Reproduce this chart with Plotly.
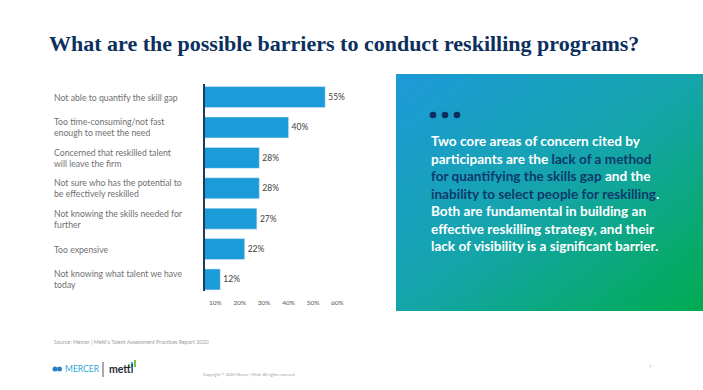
import plotly.graph_objects as go

W, H = 703, 390

title_text = "What are the possible barriers to conduct reskilling programs?"
categories = [
    "Not able to quantify the skill gap",
    "Too time-consuming/not fast<br>enough to meet the need",
    "Concerned that reskilled talent<br>will leave the firm",
    "Not sure who has the potential to<br>be effectively reskilled",
    "Not knowing the skills needed for<br>further",
    "Too expensive",
    "Not knowing what talent we have<br>today",
]
values = [55, 40, 28, 28, 27, 22, 12]
tick_values = [10, 20, 30, 40, 50, 60]
tick_labels = ["10%", "20%", "30%", "40%", "50%", "60%"]

NAVY = "#0d3a6b"
box_lines = [
    "Two core areas of concern cited by",
    f"participants are the <span style='color:{NAVY}'>lack of a method</span>",
    f"<span style='color:{NAVY}'>for quantifying the skills gap</span> and the",
    f"<span style='color:{NAVY}'>inability to select people for reskilling</span>.",
    "Both are fundamental in building an",
    "effective reskilling strategy, and their",
    "lack of visibility is a significant barrier.",
]
source_text = "Source: Mercer | Mettl's Talent Assessment Practices Report 2020"
copyright_text = "Copyright © 2020 Mercer | Mettl. All rights reserved."

def px(x):
    return x / W

def py(y):
    return 1 - y / H

ids = list(range(len(categories)))

fig = go.Figure()

# gradient panel via heatmap
fig.add_trace(go.Heatmap(
    z=[[1, 2], [0, 1]], x=[0, 1], y=[0, 1], zsmooth="best",
    colorscale=[[0, "#1d9ad9"], [0.5, "#14a5aa"], [1, "#01ab4f"]],
    showscale=False, hoverinfo="skip", xaxis="x2", yaxis="y2",
))

fig.add_trace(go.Bar(
    x=values, y=ids, orientation="h", base=0,
    marker=dict(color="#1b9bd7"), width=0.69,
    text=[f"{v}%" for v in values], textposition="outside",
    textfont=dict(family="Lato", size=8.5, color="#404040"),
    cliponaxis=False, hoverinfo="skip",
))

fig.update_layout(
    width=W, height=H, margin=dict(l=0, r=0, t=0, b=0),
    paper_bgcolor="white", plot_bgcolor="rgba(0,0,0,0)",
    showlegend=False,
    xaxis=dict(domain=[px(205), px(349.6)], range=[5.74, 65],
               tickvals=tick_values, ticktext=tick_labels,
               tickfont=dict(family="Lato", size=6.5, color="#555555"),
               ticks="outside", ticklen=5, tickcolor="rgba(0,0,0,0)",
               showgrid=False, zeroline=False, showline=False, fixedrange=True),
    yaxis=dict(domain=[py(291), py(84)], range=[6.38, -0.43],
               showticklabels=False, showgrid=False, zeroline=False,
               showline=True, linecolor="#1f3a5c", linewidth=1.6,
               fixedrange=True),
    xaxis2=dict(domain=[px(396), 1], range=[0, 1], visible=False, anchor="y2"),
    yaxis2=dict(domain=[py(311), py(74)], range=[0, 1], visible=False, anchor="x2"),
)

annotations = []
annotations.append(dict(
    text=f"<b>{title_text}</b>", x=px(47), y=py(43), xref="paper", yref="paper",
    xanchor="left", yanchor="middle", showarrow=False,
    font=dict(family="Liberation Serif", size=22, color="#0c2f5e"),
))
for i, c in enumerate(categories):
    annotations.append(dict(
        text=c, x=px(52), y=i, xref="paper", yref="y",
        xanchor="left", yanchor="middle", align="left", showarrow=False,
        font=dict(family="Lato", size=8.7, color="#707070"),
    ))
for k, line in enumerate(box_lines):
    annotations.append(dict(
        text=f"<b>{line}</b>", x=px(429), y=py(141 + 17.5 * k),
        xref="paper", yref="paper", xanchor="left", yanchor="middle",
        showarrow=False, font=dict(family="Lato", size=13.6, color="white"),
    ))
annotations.append(dict(
    text=source_text, x=px(52), y=py(342), xref="paper", yref="paper",
    xanchor="left", yanchor="middle", showarrow=False,
    font=dict(family="Lato", size=5.4, color="#a0a0a0"),
))
annotations.append(dict(
    text="MERCER", x=px(63), y=py(369), xref="paper", yref="paper",
    xanchor="left", yanchor="middle", showarrow=False,
    font=dict(family="Lato", size=8.5, color="#2aa7df"),
))
annotations.append(dict(
    text="<b>mettl</b>", x=px(107), y=py(369), xref="paper", yref="paper",
    xanchor="left", yanchor="middle", showarrow=False,
    font=dict(family="Lato", size=10.5, color="#1e2b3a"),
))
annotations.append(dict(
    text=copyright_text, x=px(201), y=py(374), xref="paper", yref="paper",
    xanchor="left", yanchor="middle", showarrow=False,
    font=dict(family="Lato", size=4, color="#9a9aa5"),
))
annotations.append(dict(
    text="7", x=px(650), y=py(366), xref="paper", yref="paper",
    xanchor="center", yanchor="middle", showarrow=False,
    font=dict(family="Lato", size=4.5, color="#9a9aa5"),
))
fig.update_layout(annotations=annotations)

shapes = []
for cx in (433, 445, 457):
    shapes.append(dict(type="circle", xref="paper", yref="paper",
                       x0=px(cx - 3.3), x1=px(cx + 3.3), y0=py(115 + 3.3), y1=py(115 - 3.3),
                       fillcolor="#0d2f5f", line=dict(width=0)))
# Mercer logo mark
for cx in (55, 59.5):
    shapes.append(dict(type="circle", xref="paper", yref="paper",
                       x0=px(cx - 2.5), x1=px(cx + 2.5), y0=py(369 + 2.5), y1=py(369 - 2.5),
                       fillcolor="#2a7fc1", line=dict(width=0)))
shapes.append(dict(type="line", xref="paper", yref="paper",
                   x0=px(103), x1=px(103), y0=py(362), y1=py(377),
                   line=dict(color="#555555", width=1)))
# mettl bar icon
for bx, top, col in ((128, 364, "#7cc243"), (131, 362, "#3aa6dc"), (134, 360, "#7cc243")):
    shapes.append(dict(type="rect", xref="paper", yref="paper",
                       x0=px(bx), x1=px(bx + 2), y0=py(367), y1=py(top),
                       fillcolor=col, line=dict(width=0)))
fig.update_layout(shapes=shapes)

fig.write_html("out.html")
